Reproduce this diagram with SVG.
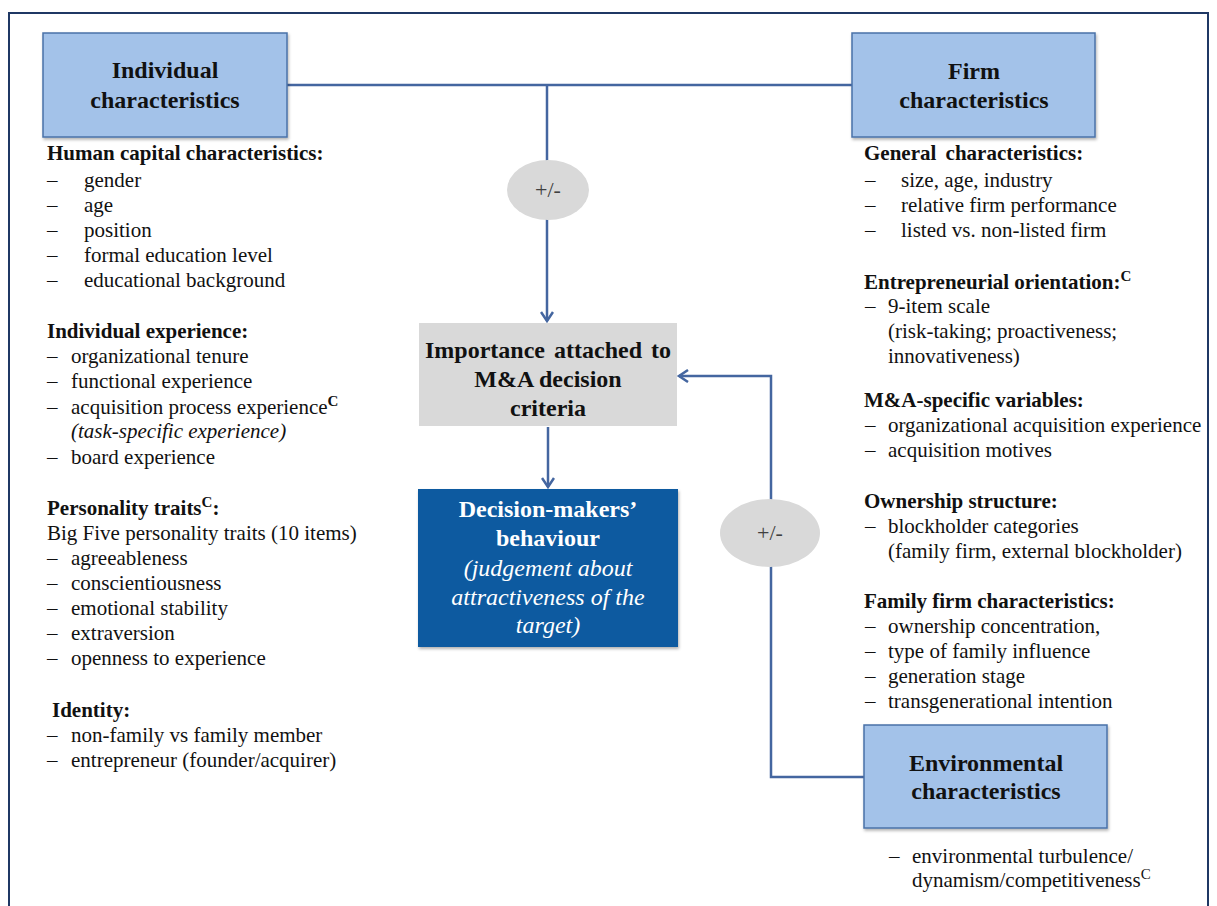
<svg xmlns="http://www.w3.org/2000/svg" width="1217" height="906" viewBox="0 0 1217 906">
<style>
  text { font-family: "Liberation Serif", "Times New Roman", serif; fill: #111; }
  .t { font-size: 21px; }
  .h { font-size: 21px; font-weight: bold; }
  .bt { font-size: 24px; font-weight: bold; text-anchor: middle; }
  .wb { font-size: 24px; font-weight: bold; text-anchor: middle; fill: #ffffff; }
  .wi { font-size: 24px; font-style: italic; text-anchor: middle; fill: #ffffff; }
  .pm { font-size: 22px; text-anchor: middle; fill: #404040; }
  .blue { fill: #a3c2e9; stroke: #4a72a8; stroke-width: 1.5; filter: url(#sh); }
  .conn { fill: none; stroke: #4466a0; stroke-width: 2.5; }
  .ell { fill: #d9d9d9; stroke: none; }
  .sup { font-size: 15px; }
</style>
<defs>
  <filter id="sh" x="-5%" y="-5%" width="112%" height="115%">
    <feDropShadow dx="1" dy="2" stdDeviation="1.5" flood-color="#000" flood-opacity="0.3"/>
  </filter>
  <marker id="arr" markerWidth="14" markerHeight="14" refX="11" refY="7" orient="auto" markerUnits="userSpaceOnUse">
    <path d="M2,1 L11,7 L2,13" fill="none" stroke="#4466a0" stroke-width="2.5"/>
  </marker>
</defs>
<rect x="0" y="0" width="1217" height="906" fill="#ffffff"/>
<rect id="frame" x="9" y="13" width="1199" height="905" fill="none" stroke="#1f3864" stroke-width="2"/>

<g id="connectors">
  <line class="conn" x1="287" y1="85" x2="852" y2="85"/>
  <line class="conn" x1="547" y1="85" x2="547" y2="321" marker-end="url(#arr)"/>
  <line class="conn" x1="548" y1="427" x2="548" y2="487" marker-end="url(#arr)"/>
  <polyline class="conn" points="864,777 771,777 771,376 679,376" marker-end="url(#arr)"/>
</g>

<g id="pm-top">
  <ellipse class="ell" cx="548" cy="190" rx="41" ry="30"/>
  <text class="pm" x="548" y="197">+/-</text>
</g>
<g id="pm-right">
  <ellipse class="ell" cx="770" cy="533" rx="50" ry="34"/>
  <text class="pm" x="770" y="540">+/-</text>
</g>

<g id="individual">
  <rect class="blue" x="43" y="33" width="244" height="104"/>
  <text class="bt" x="165" y="78">Individual</text>
  <text class="bt" x="165" y="108">characteristics</text>
</g>

<g id="firm">
  <rect class="blue" x="852" y="33" width="243" height="104"/>
  <text class="bt" x="974" y="79">Firm</text>
  <text class="bt" x="974" y="108">characteristics</text>
</g>

<g id="importance">
  <rect x="419" y="323" width="258" height="103" fill="#d9d9d9"/>
  <text class="bt" x="548" y="358" word-spacing="3">Importance attached to</text>
  <text class="bt" x="548" y="387">M&amp;A decision</text>
  <text class="bt" x="548" y="416">criteria</text>
</g>

<g id="decision">
  <rect x="418" y="489" width="260" height="158" fill="#0e5aa0" filter="url(#sh)"/>
  <text class="wb" x="548" y="517">Decision-makers’</text>
  <text class="wb" x="548" y="546">behaviour</text>
  <text class="wi" x="548" y="576">(judgement about</text>
  <text class="wi" x="548" y="605">attractiveness of the</text>
  <text class="wi" x="548" y="633">target)</text>
</g>

<g id="environmental">
  <rect class="blue" x="864" y="725" width="243" height="103"/>
  <text class="bt" x="986" y="771">Environmental</text>
  <text class="bt" x="986" y="799">characteristics</text>
</g>

<g id="left-text">
  <text class="h" x="47" y="160">Human capital characteristics:</text>
  <text class="t" x="47" y="187">–</text><text class="t" x="84" y="187">gender</text>
  <text class="t" x="47" y="212">–</text><text class="t" x="84" y="212">age</text>
  <text class="t" x="47" y="237">–</text><text class="t" x="84" y="237">position</text>
  <text class="t" x="47" y="262">–</text><text class="t" x="84" y="262">formal education level</text>
  <text class="t" x="47" y="287">–</text><text class="t" x="84" y="287">educational background</text>

  <text class="h" x="47" y="338">Individual experience:</text>
  <text class="t" x="47" y="363">–</text><text class="t" x="71" y="363">organizational tenure</text>
  <text class="t" x="47" y="388">–</text><text class="t" x="71" y="388">functional experience</text>
  <text class="t" x="47" y="414">–</text><text class="t" x="71" y="414">acquisition process experience<tspan class="sup" dy="-8" font-weight="bold">C</tspan></text>
  <text class="t" x="71" y="438" font-style="italic">(task-specific experience)</text>
  <text class="t" x="47" y="464">–</text><text class="t" x="71" y="464">board experience</text>

  <text class="h" x="47" y="515">Personality traits<tspan class="sup" dy="-8">C</tspan><tspan dy="8">:</tspan></text>
  <text class="t" x="47" y="540">Big Five personality traits (10 items)</text>
  <text class="t" x="47" y="565">–</text><text class="t" x="71" y="565">agreeableness</text>
  <text class="t" x="47" y="590">–</text><text class="t" x="71" y="590">conscientiousness</text>
  <text class="t" x="47" y="615">–</text><text class="t" x="71" y="615">emotional stability</text>
  <text class="t" x="47" y="640">–</text><text class="t" x="71" y="640">extraversion</text>
  <text class="t" x="47" y="665">–</text><text class="t" x="71" y="665">openness to experience</text>

  <text class="h" x="52" y="717">Identity:</text>
  <text class="t" x="47" y="742">–</text><text class="t" x="71" y="742">non-family vs family member</text>
  <text class="t" x="47" y="767">–</text><text class="t" x="71" y="767">entrepreneur (founder/acquirer)</text>
</g>

<g id="right-text">
  <text class="h" x="864" y="160" word-spacing="4">General characteristics:</text>
  <text class="t" x="865" y="187">–</text><text class="t" x="901" y="187">size, age, industry</text>
  <text class="t" x="865" y="212">–</text><text class="t" x="901" y="212">relative firm performance</text>
  <text class="t" x="865" y="237">–</text><text class="t" x="901" y="237">listed vs. non-listed firm</text>

  <text class="h" x="864" y="289">Entrepreneurial orientation:<tspan class="sup" dy="-8">C</tspan></text>
  <text class="t" x="865" y="313">–</text><text class="t" x="888" y="313">9-item scale</text>
  <text class="t" x="888" y="338">(risk-taking; proactiveness;</text>
  <text class="t" x="888" y="363">innovativeness)</text>

  <text class="h" x="864" y="407">M&amp;A-specific variables:</text>
  <text class="t" x="865" y="432">–</text><text class="t" x="888" y="432">organizational acquisition experience</text>
  <text class="t" x="865" y="457">–</text><text class="t" x="888" y="457">acquisition motives</text>

  <text class="h" x="864" y="508">Ownership structure:</text>
  <text class="t" x="865" y="533">–</text><text class="t" x="888" y="533">blockholder categories</text>
  <text class="t" x="888" y="558">(family firm, external blockholder)</text>

  <text class="h" x="864" y="608">Family firm characteristics:</text>
  <text class="t" x="865" y="633">–</text><text class="t" x="888" y="633">ownership concentration,</text>
  <text class="t" x="865" y="658">–</text><text class="t" x="888" y="658">type of family influence</text>
  <text class="t" x="865" y="683">–</text><text class="t" x="888" y="683">generation stage</text>
  <text class="t" x="865" y="708">–</text><text class="t" x="888" y="708">transgenerational intention</text>

  <text class="t" x="889" y="863">–</text><text class="t" x="912" y="863">environmental turbulence/</text>
  <text class="t" x="912" y="887">dynamism/competitiveness<tspan class="sup" dy="-8">C</tspan></text>
</g>
</svg>
